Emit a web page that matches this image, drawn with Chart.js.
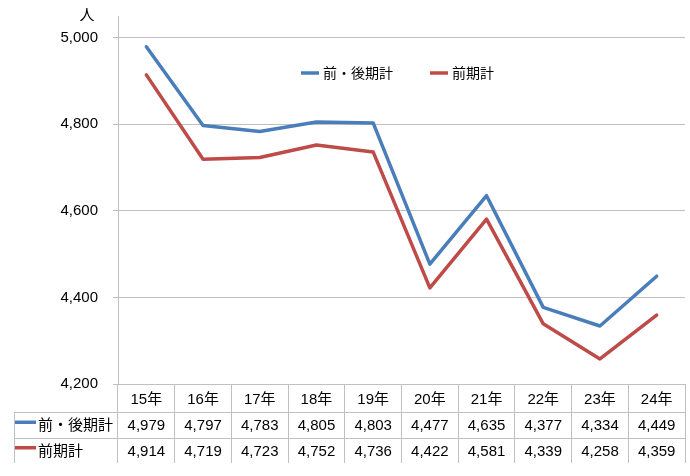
<!DOCTYPE html>
<html>
<head>
<meta charset="utf-8">
<script src="https://cdn.jsdelivr.net/npm/chart.js@4.4.1/dist/chart.umd.min.js"></script>
<style>
    html, body { margin: 0; padding: 0; background: #fff; }
</style>
</head>
<body>
<canvas id="myChart" width="690" height="476"></canvas>
<script>
// 年度ごとの人数
const years = ['15年', '16年', '17年', '18年', '19年', '20年', '21年', '22年', '23年', '24年']
const totalAll = [4979, 4797, 4783, 4805, 4803, 4477, 4635, 4377, 4334, 4449]
const totalFirst = [4914, 4719, 4723, 4752, 4736, 4422, 4581, 4339, 4258, 4359]
const seriesNames = ['前・後期計', '前期計']
const yTicks = [4200, 4400, 4600, 4800, 5000]
const unitLabel = '人'

const BLUE = '#4a7ebb'
const RED = '#be4b48'
const GRID = '#c0c0c0'
const FONT = '"Liberation Sans", "Noto Sans CJK JP", sans-serif'

Chart.defaults.font.family = FONT
Chart.defaults.font.size = 15
Chart.defaults.color = '#000'

// 凡例 (グラフの中に置く)
const legendPlugin = {
    id: 'innerLegend',
    afterDatasetsDraw(chart) {
        const ctx = chart.ctx
        const a = chart.chartArea
        const lineW = 18
        const gap = 4
        const between = 37
        const cy = a.top + 57
        ctx.save()
        ctx.font = '14px ' + FONT
        const items = chart.data.datasets.map(function (ds) {
            return { text: ds.label, color: ds.borderColor, w: lineW + gap + ctx.measureText(ds.label).width }
        })
        const total = items.reduce(function (s, it) { return s + it.w }, 0) + between * (items.length - 1)
        let x = (a.left + a.right) / 2 - total / 2 - 4
        ctx.textBaseline = 'middle'
        ctx.textAlign = 'left'
        items.forEach(function (it) {
            ctx.strokeStyle = it.color
            ctx.lineWidth = 3.5
            ctx.beginPath()
            ctx.moveTo(x, cy)
            ctx.lineTo(x + lineW, cy)
            ctx.stroke()
            ctx.fillStyle = '#000'
            ctx.fillText(it.text, x + lineW + gap, cy + 1)
            x += it.w + between
        })
        ctx.restore()
    },
}

// 表の部分 (凡例 + 数値) を描く
const tablePlugin = {
    id: 'dataTable',
    afterDraw(chart) {
        const ctx = chart.ctx
        const x = chart.scales.x
        const y = chart.scales.y
        const a = chart.chartArea
        const left = 14
        const rowTop = a.bottom + 28
        const rowH = 25.5
        const bottom = a.bottom + 79
        const rows = [
            { name: seriesNames[0], color: BLUE, values: totalAll },
            { name: seriesNames[1], color: RED, values: totalFirst },
        ]

        ctx.save()
        ctx.strokeStyle = GRID
        ctx.lineWidth = 1
        ctx.beginPath()
        rows.forEach(function (r, i) {
            const ly = Math.round(rowTop + i * rowH) + 0.5
            ctx.moveTo(left, ly)
            ctx.lineTo(a.right, ly)
        })
        ctx.moveTo(left + 0.5, rowTop)
        ctx.lineTo(left + 0.5, bottom)
        ctx.stroke()

        ctx.font = '15px ' + FONT
        ctx.fillStyle = '#000'
        ctx.textBaseline = 'middle'
        rows.forEach(function (r, i) {
            const cy = rowTop + i * rowH + rowH / 2 + 1.5
            // 凡例の線
            ctx.strokeStyle = r.color
            ctx.lineWidth = 3.5
            ctx.beginPath()
            ctx.moveTo(left + 1, cy - 4)
            ctx.lineTo(left + 22, cy - 4)
            ctx.stroke()
            ctx.textAlign = 'left'
            ctx.fillText(r.name, left + 24, cy)
            ctx.textAlign = 'center'
            r.values.forEach(function (v, j) {
                ctx.fillText(v.toLocaleString('en-US'), x.getPixelForValue(j), cy)
            })
        })

        // 単位
        ctx.textAlign = 'center'
        ctx.fillText(unitLabel, y.right - 31, a.top)
        ctx.restore()
    },
}

const ctx = document.getElementById('myChart').getContext('2d')
const myChart = new Chart(ctx, {
    type: 'line',
    data: {
        labels: years,
        datasets: [
            {
                label: seriesNames[0],
                data: totalAll,
                borderColor: BLUE,
                backgroundColor: BLUE,
            },
            {
                label: seriesNames[1],
                data: totalFirst,
                borderColor: RED,
                backgroundColor: RED,
            },
        ],
    },
    options: {
        responsive: false,
        animation: false,
        layout: {
            padding: { top: 16, right: 5, bottom: 0, left: 0 },
        },
        elements: {
            line: { borderWidth: 3.5, tension: 0, borderCapStyle: 'round', borderJoinStyle: 'round', fill: false },
            point: { radius: 0, hoverRadius: 0 },
        },
        scales: {
            x: {
                offset: true,
                grid: {
                    offset: true,
                    drawOnChartArea: false,
                    tickLength: 79,
                    color: function (c) {
                        return c.index === years.length ? 'rgba(0,0,0,0)' : GRID
                    },
                },
                border: { display: false },
                ticks: {
                    padding: -72,
                    maxRotation: 0,
                    autoSkip: false,
                },
                afterFit: function (s) {
                    s.height = 92
                    s.paddingLeft = 0
                    s.paddingRight = 0
                },
            },
            y: {
                min: 4200,
                max: 5050,
                grid: { color: GRID, tickLength: 5 },
                border: { color: GRID },
                ticks: { padding: 15 },
                afterBuildTicks: function (s) {
                    s.ticks = yTicks.map(function (v) {
                        return { value: v }
                    })
                },
                afterFit: function (s) {
                    s.width = 118
                    s.paddingTop = 0
                    s.paddingBottom = 0
                },
            },
        },
        plugins: {
            legend: { display: false },
            tooltip: { enabled: false },
        },
    },
    plugins: [legendPlugin, tablePlugin],
})
</script>
</body>
</html>
